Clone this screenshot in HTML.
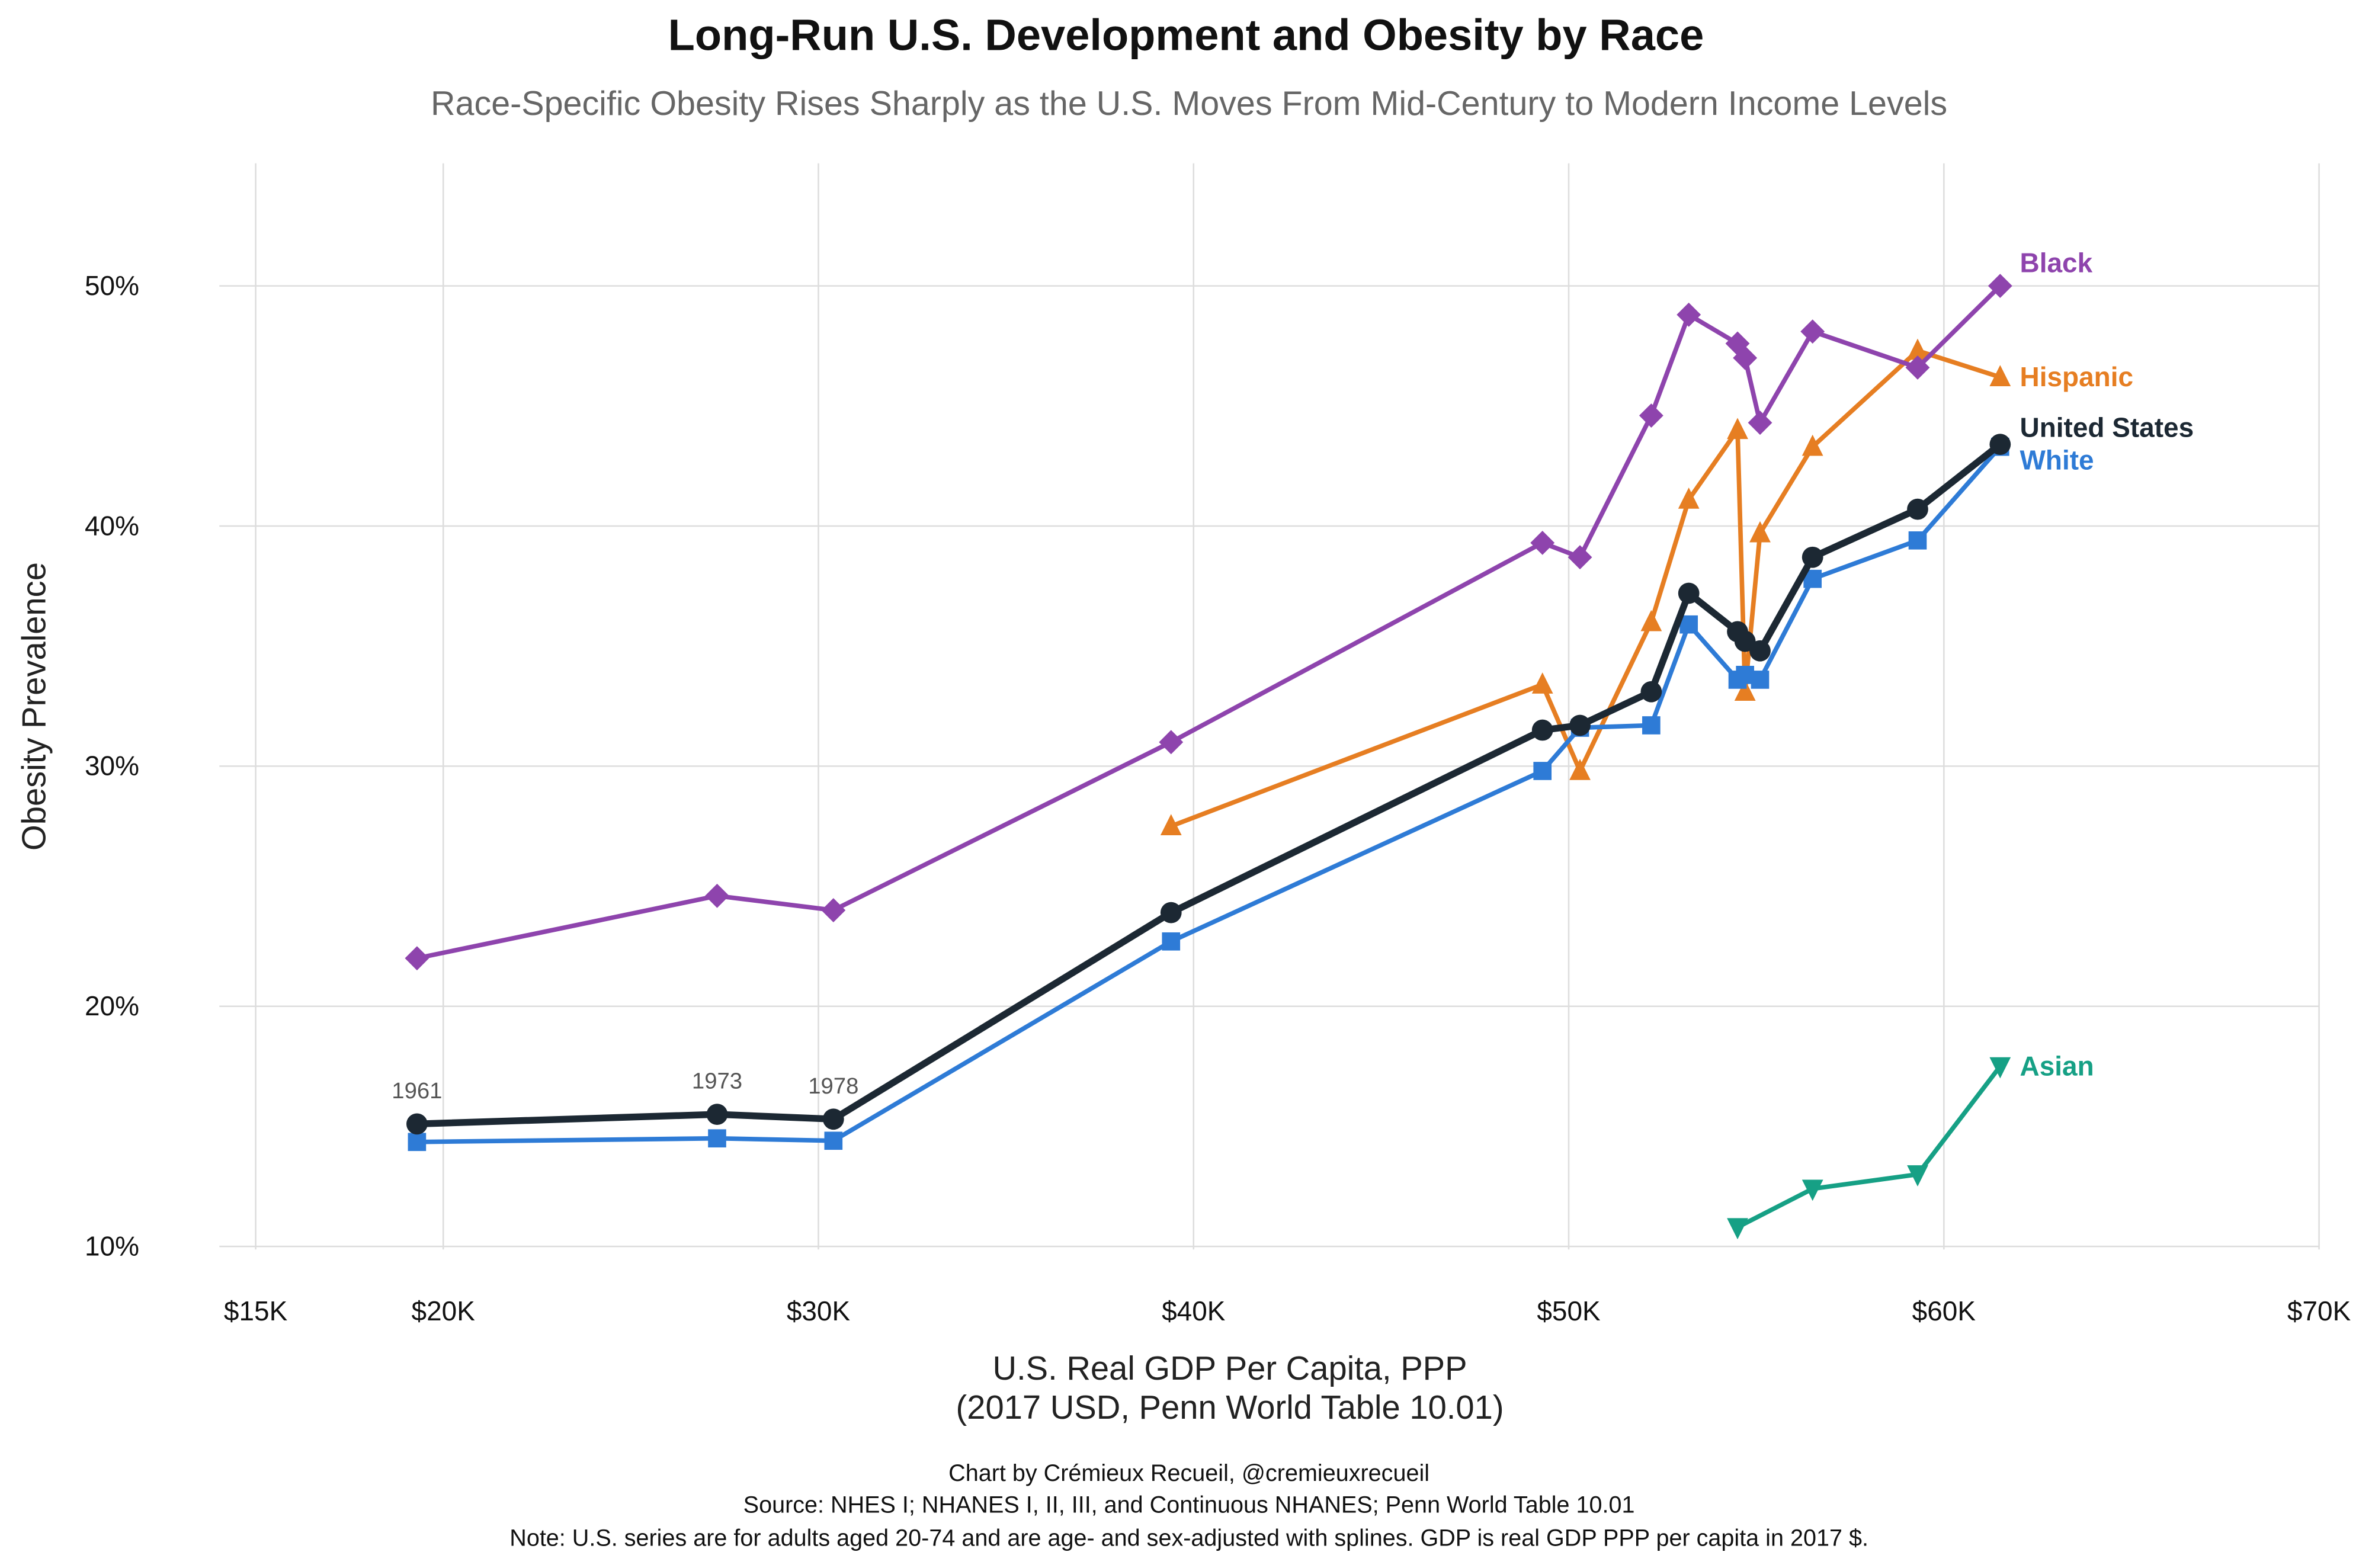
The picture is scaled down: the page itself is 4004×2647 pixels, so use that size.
<!DOCTYPE html>
<html><head><meta charset="utf-8"><style>
html,body{margin:0;padding:0;background:#fff;}
svg{display:block;font-family:"Liberation Sans",Arial,sans-serif;}
</style></head><body>
<svg id="chart" width="4004" height="2647" viewBox="0 0 1568 1036.6" xmlns="http://www.w3.org/2000/svg">
<rect width="1568" height="1037" fill="#fff"/>
<text x="784" y="33" text-anchor="middle" font-size="29" font-weight="bold" fill="#111">Long-Run U.S. Development and Obesity by Race</text>
<text x="786" y="76" text-anchor="middle" font-size="22.5" fill="#666">Race-Specific Obesity Rises Sharply as the U.S. Moves From Mid-Century to Modern Income Levels</text>
<g id="grid"></g>
<g id="series"></g>
<text transform="translate(30,467) rotate(-90)" text-anchor="middle" font-size="22" fill="#222">Obesity Prevalence</text>
<text x="813" y="912" text-anchor="middle" font-size="22" fill="#222">U.S. Real GDP Per Capita, PPP</text>
<text x="813" y="938" text-anchor="middle" font-size="22" fill="#222">(2017 USD, Penn World Table 10.01)</text>
<text x="786" y="979" text-anchor="middle" font-size="15.5" fill="#111">Chart by Crémieux Recueil, @cremieuxrecueil</text>
<text x="786" y="1000" text-anchor="middle" font-size="15.5" fill="#111">Source: NHES I; NHANES I, II, III, and Continuous NHANES; Penn World Table 10.01</text>
<text x="786" y="1022" text-anchor="middle" font-size="15.5" fill="#111">Note: U.S. series are for adults aged 20-74 and are age- and sex-adjusted with splines. GDP is real GDP PPP per capita in 2017 $.</text>
</svg>
<script>
const xTicks = [15,20,30,40,50,60,70];
const yTicks = [10,20,30,40,50];
const gdp = [19.3,27.3,30.4,39.4,49.3,50.3,52.2,53.2,54.5,54.7,55.1,56.5,59.3,61.5];
const usVals = [15.1,15.5,15.3,23.9,31.5,31.7,33.1,37.2,35.6,35.2,34.8,38.7,40.7,43.4];
const whiteVals = [14.35,14.5,14.4,22.7,29.8,31.6,31.7,35.9,33.6,33.8,33.6,37.8,39.4,43.3];
const blackVals = [22.0,24.6,24.0,31.0,39.3,38.7,44.6,48.8,47.6,47.0,44.3,48.1,46.6,50.0];
const hispGdp = [39.4,49.3,50.3,52.2,53.2,54.5,54.7,55.1,56.5,59.3,61.5];
const hispVals = [27.5,33.4,29.8,36.0,41.1,44.0,33.1,39.7,43.3,47.3,46.2];
const asianGdp = [54.5,56.5,59.3,61.5];
const asianVals = [10.8,12.4,13.0,17.5];
const yearLabels = ["1961","1973","1978"];

const NS="http://www.w3.org/2000/svg";
const X=v=>293+(v-20)*24.8;
const Y=p=>824-(p-10)*15.875;
const grid=document.getElementById('grid');
const ser=document.getElementById('series');
function mk(tag,attrs,parent){const e=document.createElementNS(NS,tag);for(const k in attrs)e.setAttribute(k,attrs[k]);parent.appendChild(e);return e;}

xTicks.forEach(t=>{
  const l=mk('line',{x1:X(t),x2:X(t),y1:108,y2:826,stroke:'#ddd','stroke-width':1},grid);
  
  
  const tx=mk('text',{x:X(t),y:873,'text-anchor':'middle','font-size':18,fill:'#111'},grid);
  tx.textContent='$'+t+'K';
  
  
});
yTicks.forEach(t=>{
  const l=mk('line',{x1:145,x2:1533,y1:Y(t),y2:Y(t),stroke:'#ddd','stroke-width':1},grid);
  
  
  const tx=mk('text',{x:92,y:Y(t)+6,'text-anchor':'end','font-size':18,fill:'#111'},grid);
  tx.textContent=t+'%';
  
  
});

function marker(shape,x,y,c,g){
  if(shape==='circle')return mk('circle',{cx:x,cy:y,r:7,fill:c},g);
  if(shape==='square')return mk('rect',{x:x-6,y:y-6,width:12,height:12,fill:c},g);
  if(shape==='diamond')return mk('polygon',{points:`${x},${y-8} ${x+8},${y} ${x},${y+8} ${x-8},${y}`,fill:c},g);
  if(shape==='up')return mk('polygon',{points:`${x},${y-8} ${x+7},${y+6} ${x-7},${y+6}`,fill:c},g);
  return mk('polygon',{points:`${x},${y+8} ${x+7},${y-6} ${x-7},${y-6}`,fill:c},g);
}
function series(name,xs,ys,color,w,shape,label,ly){
  const g=mk('g',{},ser);
  
  
  const p=mk('polyline',{points:xs.map((v,i)=>X(v)+','+Y(ys[i])).join(' '),fill:'none',stroke:color,'stroke-width':w,'stroke-linejoin':'round'},g);
  
  
  xs.forEach((v,i)=>{
    const m=marker(shape,X(v),Y(ys[i]),color,g);
    
    
  });
  const t=mk('text',{x:X(xs[xs.length-1])+13,y:ly,'font-size':18,'font-weight':'bold',fill:color},g);
  t.textContent=label;
  
  
}
series('asian',asianGdp,asianVals,'#16a085',3,'down','Asian',Y(asianVals[asianVals.length-1])+6);
series('hispanic',hispGdp,hispVals,'#e67e22',3,'up','Hispanic',Y(hispVals[hispVals.length-1])+6);
series('black',gdp,blackVals,'#8e44ad',3,'diamond','Black',Y(blackVals[blackVals.length-1])-9);
series('white',gdp,whiteVals,'#2e7bd6',3,'square','White',Y(whiteVals[whiteVals.length-1])+15);
series('us',gdp,usVals,'#1c2833',4.5,'circle','United States',Y(usVals[usVals.length-1])-5);

yearLabels.forEach((lab,i)=>{
  const t=mk('text',{x:X(gdp[i]),y:Y(usVals[i])-17,'text-anchor':'middle','font-size':15,fill:'#555'},ser);
  t.textContent=lab;
  
  
});
</script>
</body></html>
